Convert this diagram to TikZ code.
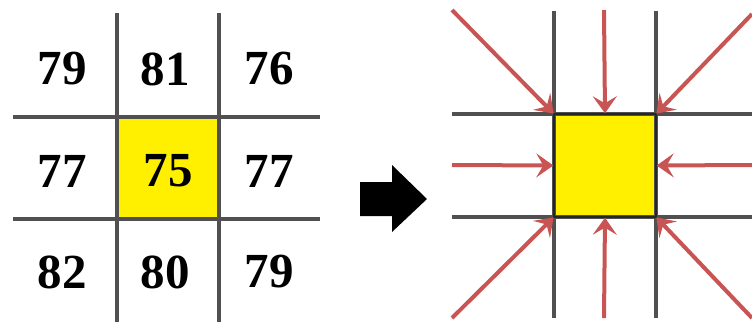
\documentclass[tikz,border=0pt]{standalone}
\usepackage{fontspec}
\setmainfont{Liberation Serif}
\usetikzlibrary{arrows.meta}
\definecolor{gridgray}{HTML}{505050}
\definecolor{arrred}{HTML}{C85454}
\definecolor{cellyellow}{HTML}{FFF000}
\begin{document}
\begin{tikzpicture}[x=1pt,y=-1pt,
  gridline/.style={gridgray,line width=3.2pt},
  num/.style={font=\fontsize{49}{52}\selectfont\bfseries,inner sep=0pt},
  yellowcell/.style={fill=cellyellow,draw=none,minimum width=102pt,minimum height=102pt,inner sep=0pt},
  inarrow/.style={arrred,line width=4pt,-{Stealth[length=17pt,width=24pt,inset=7pt]},shorten >=1pt}]
\useasboundingbox (0,0) rectangle (752,322);
% left grid
\node[yellowcell] (y1) at (168,168) {};
\draw[gridline] (117,13) -- (117,322) (219,13) -- (219,322);
\draw[gridline] (13,117) -- (320,117) (13,219) -- (320,219);
\node[num] (a11) at (62,69) {79};
\node[num] (a12) at (165,69) {81};
\node[num] (a13) at (269,69) {76};
\node[num] (a21) at (62,171) {77};
\node[num] (a22) at (168,171) {75};
\node[num] (a23) at (269,171) {77};
\node[num] (a31) at (62,272) {82};
\node[num] (a32) at (165,272) {80};
\node[num] (a33) at (269,272) {79};
% block arrow
\fill[black] (360,182) -- (392,182) -- (392,165) -- (427,199) -- (392,232) -- (392,216) -- (360,216) -- cycle;
% right grid
\node[yellowcell,minimum width=101pt,minimum height=102pt] (c) at (605,165.5) {};
\draw[gridline] (554,11) -- (554,318) (656,11) -- (656,318);
\draw[gridline] (452,114) -- (752,114) (452,217) -- (752,217);
\draw[draw=black!85,line width=2pt] (c.north west) rectangle (c.south east);
\coordinate (s1) at (452,10);
\coordinate (s2) at (604,10);
\coordinate (s3) at (752,14);
\coordinate (s4) at (452,165);
\coordinate (s5) at (752,165);
\coordinate (s6) at (452,318);
\coordinate (s7) at (604,318);
\coordinate (s8) at (752,318);
\draw[inarrow] (s1) -- (c.north west);
\draw[inarrow] (s2) -- (c.north);
\draw[inarrow] (s3) -- (c.north east);
\draw[inarrow] (s4) -- (c.west);
\draw[inarrow] (s5) -- (c.east);
\draw[inarrow] (s6) -- (c.south west);
\draw[inarrow] (s7) -- (c.south);
\draw[inarrow] (s8) -- (c.south east);
\end{tikzpicture}
\end{document}
